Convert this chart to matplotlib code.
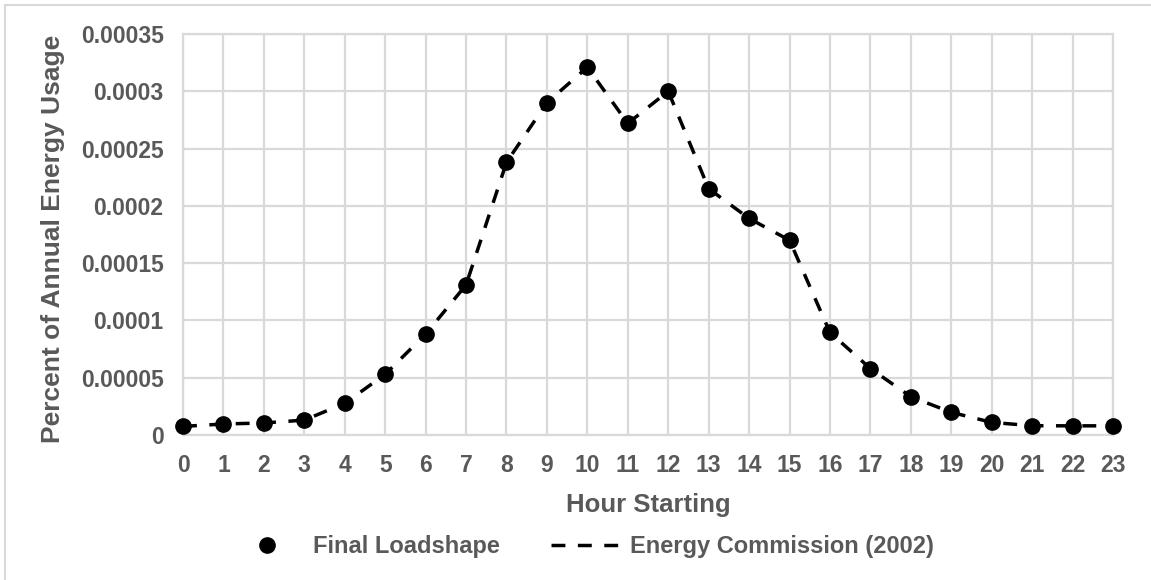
import matplotlib
matplotlib.use("Agg")
import matplotlib.pyplot as plt
from matplotlib.lines import Line2D
from matplotlib.patches import Rectangle

# Hourly values
hours = list(range(24))
final_loadshape = [7.5e-6, 9.6e-6, 1.05e-5, 1.3e-5, 2.76e-5, 5.3e-5, 8.8e-5, 1.31e-4,
                   2.38e-4, 2.9e-4, 3.21e-4, 2.72e-4, 3.0e-4, 2.15e-4, 1.89e-4, 1.70e-4,
                   8.95e-5, 5.8e-5, 3.34e-5, 1.98e-5, 1.1e-5, 8.1e-6, 8.0e-6, 8.0e-6]
energy_commission = [7.5e-6, 9.6e-6, 1.05e-5, 1.3e-5, 2.76e-5, 5.3e-5, 8.8e-5, 1.31e-4,
                     2.38e-4, 2.9e-4, 3.21e-4, 2.72e-4, 3.0e-4, 2.15e-4, 1.89e-4, 1.70e-4,
                     8.95e-5, 5.8e-5, 3.34e-5, 1.98e-5, 1.1e-5, 8.1e-6, 8.0e-6, 8.0e-6]
y_ticks = [0, 0.00005, 0.0001, 0.00015, 0.0002, 0.00025, 0.0003, 0.00035]
y_tick_labels = ["0", "0.00005", "0.0001", "0.00015", "0.0002", "0.00025", "0.0003", "0.00035"]

TEXT_COLOR = "#595959"
GRID_COLOR = "#D9D9D9"
W, H = 1151, 580
DASH = (0, (4, 3.6))

plt.rcParams['font.family'] = ['Liberation Sans', 'DejaVu Sans']
plt.rcParams['font.weight'] = 'bold'

fig = plt.figure(figsize=(W / 100, H / 100), dpi=100)

# chart border
fig.patches.append(Rectangle((5 / W, -0.1), 1.2, 1 - 5 / H + 0.1, transform=fig.transFigure,
                             fill=False, edgecolor=GRID_COLOR, linewidth=1.5))

ax = fig.add_axes([183 / W, 1 - 435 / H, (1113 - 183) / W, (435 - 34) / H])

ax.plot(hours, energy_commission, color="black", linestyle=DASH, linewidth=2.5,
        clip_on=False, zorder=3)
ax.plot(hours, final_loadshape, linestyle="none", marker="o", markersize=11,
        color="black", clip_on=False, zorder=4)

ax.set_xlim(0, 23)
ax.set_ylim(0, 0.00035)
ax.set_xticks(hours)
ax.set_yticks(y_ticks)
ax.set_yticklabels(y_tick_labels)
ax.grid(True, color=GRID_COLOR, linewidth=1.6)
ax.set_axisbelow(True)
for s in ax.spines.values():
    s.set_color(GRID_COLOR)
    s.set_linewidth(1.6)
ax.tick_params(length=0, labelsize=16.5, labelcolor=TEXT_COLOR)
ax.tick_params(axis="y", pad=14)
ax.tick_params(axis="x", pad=14)

ax.set_xlabel("Hour Starting", fontsize=18.5, color=TEXT_COLOR, fontweight="bold")
ax.xaxis.set_label_coords(648 / W, 1 - 505 / H, transform=fig.transFigure)
ax.xaxis.label.set_va("center")
ax.set_ylabel("Percent of Annual Energy Usage", fontsize=19, color=TEXT_COLOR,
              fontweight="bold")
ax.yaxis.set_label_coords(53 / W, 1 - 239 / H, transform=fig.transFigure)
ax.yaxis.label.set_va("center")

handles = [Line2D([], [], linestyle="none", marker="o", markersize=11, color="black"),
           Line2D([], [], color="black", linestyle=DASH, linewidth=2.5)]
leg = fig.legend(handles, ["Final Loadshape", "Energy Commission (2002)"], loc="center",
                 bbox_to_anchor=(584 / W, 1 - 547 / H), ncol=2, frameon=False,
                 fontsize=17, handlelength=2.83, handletextpad=0.5, columnspacing=2.2)
for t in leg.get_texts():
    t.set_color(TEXT_COLOR)

fig.savefig("out.png", dpi=100)
